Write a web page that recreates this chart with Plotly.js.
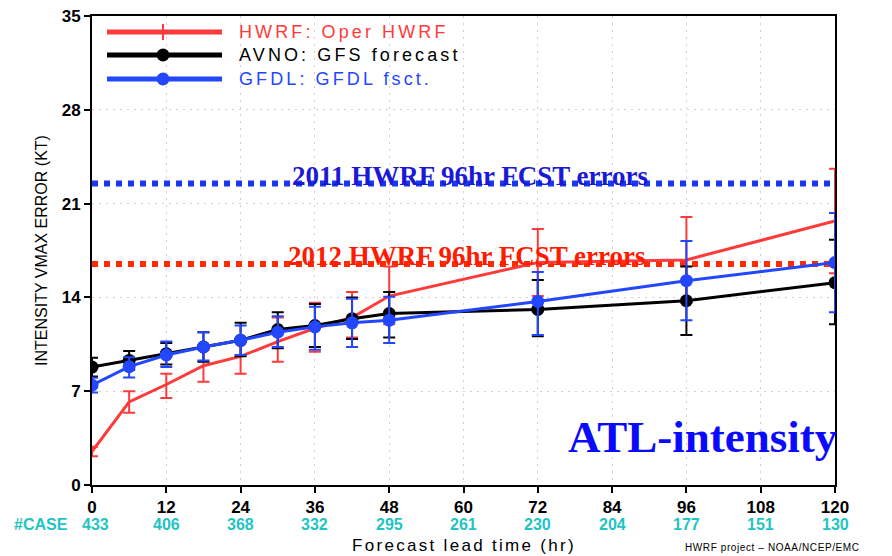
<!DOCTYPE html>
<html>
<head>
<meta charset="utf-8">
<script src="https://cdn.plot.ly/plotly-3.0.1.min.js"></script>
<style>
html,body{margin:0;padding:0;background:#fff;}
#chart{width:892px;height:556px;}
text.annotation-text[data-unformatted^="HWRF:"],
text.annotation-text[data-unformatted^="AVNO:"],
text.annotation-text[data-unformatted^="GFDL:"]{letter-spacing:3.1px;}
text.annotation-text[data-unformatted^="Forecast"]{letter-spacing:2.3px;}
text.annotation-text[data-unformatted^="HWRF project"]{letter-spacing:0.6px;}
</style>
</head>
<body>
<div id="chart"></div>
<script>
// Forecast lead times (hr)
const leadTimes = [0, 6, 12, 18, 24, 30, 36, 42, 48, 72, 96, 120];

// HWRF: Oper HWRF
const hwrfErr   = [2.5, 6.2, 7.5, 8.9, 9.6, 10.7, 11.7, 12.5, 14.1, 16.6, 16.8, 19.7];
const hwrfPlus  = [0.35, 0.8, 0.8, 1.2, 1.3, 1.8, 1.9, 1.9, 2.2, 2.5, 3.2, 3.9];
const hwrfMinus = [0.35, 0.8, 1.0, 1.2, 1.3, 1.5, 1.75, 1.5, 2.1, 2.5, 3.2, 3.9];

// AVNO: GFS forecast
const avnoErr   = [8.8, 9.3, 9.8, 10.3, 10.8, 11.6, 11.9, 12.4, 12.8, 13.1, 13.75, 15.1];
const avnoPlus  = [0.7, 0.7, 0.8, 1.1, 1.3, 1.3, 1.6, 1.6, 1.6, 2.2, 2.55, 3.2];
const avnoMinus = [0.7, 0.7, 0.8, 1.1, 1.2, 1.4, 1.6, 1.5, 1.8, 2.0, 2.55, 3.1];

// GFDL: GFDL fsct.
const gfdlErr   = [7.45, 8.83, 9.7, 10.3, 10.8, 11.4, 11.8, 12.1, 12.3, 13.7, 15.25, 16.6];
const gfdlPlus  = [0.55, 0.7, 1.0, 1.1, 1.1, 1.2, 1.5, 1.8, 1.75, 2.2, 2.95, 3.7];
const gfdlMinus = [0.55, 0.8, 0.9, 1.0, 1.1, 1.1, 1.7, 1.8, 1.7, 2.5, 2.95, 3.7];

// Reference 96hr errors
const refRange = [0, 120];
const hwrf2011_96 = 22.5;
const hwrf2012_96 = 16.5;

// Case counts under x ticks
const caseTicks  = [0, 12, 24, 36, 48, 60, 72, 84, 96, 108, 120];
const caseCounts = ["433", "406", "368", "332", "295", "261", "230", "204", "177", "151", "130"];

const xTicks = [0, 12, 24, 36, 48, 60, 72, 84, 96, 108, 120];
const yTicks = [0, 7, 14, 21, 28, 35];

const RED = '#ff3a3a', BLACK = '#000000', BLUE = '#2346ff';

const traces = [
  {x: refRange, y: [hwrf2011_96, hwrf2011_96], mode: 'lines',
   line: {color: '#1638f0', width: 6, dash: '6px,6px'}, hoverinfo: 'skip'},
  {x: refRange, y: [hwrf2012_96, hwrf2012_96], mode: 'lines',
   line: {color: '#ff2a00', width: 6, dash: '6px,6px'}, hoverinfo: 'skip'},
  {x: leadTimes, y: hwrfErr, mode: 'lines', name: 'HWRF',
   line: {color: RED, width: 3},
   error_y: {type: 'data', symmetric: false, array: hwrfPlus, arrayminus: hwrfMinus,
             color: RED, thickness: 2, width: 6}},
  {x: leadTimes, y: avnoErr, mode: 'lines+markers', name: 'AVNO',
   line: {color: BLACK, width: 3}, marker: {color: BLACK, size: 13},
   error_y: {type: 'data', symmetric: false, array: avnoPlus, arrayminus: avnoMinus,
             color: BLACK, thickness: 2, width: 6}},
  {x: leadTimes, y: gfdlErr, mode: 'lines+markers', name: 'GFDL',
   line: {color: BLUE, width: 3}, marker: {color: BLUE, size: 13},
   error_y: {type: 'data', symmetric: false, array: gfdlPlus, arrayminus: gfdlMinus,
             color: BLUE, thickness: 2, width: 6}}
];

const annotations = [];
// legend texts
const legendItems = [
  {text: 'HWRF: Oper HWRF', color: RED, y: 0.9659},
  {text: 'AVNO: GFS forecast', color: BLACK, y: 0.9168},
  {text: 'GFDL: GFDL fsct.', color: BLUE, y: 0.8657}
];
legendItems.forEach(it => annotations.push({
  xref: 'paper', yref: 'paper', x: 0.1952, y: it.y, xanchor: 'left', yanchor: 'middle',
  text: it.text, showarrow: false,
  font: {family: 'Liberation Sans, Arial, sans-serif', size: 18, color: it.color}
}));
// reference line labels
annotations.push({xref: 'x', yref: 'y', x: 61, y: hwrf2011_96, yanchor: 'middle', yshift: 8,
  text: '2011 HWRF 96hr FCST errors', showarrow: false,
  font: {family: 'Liberation Serif, Times New Roman, serif', size: 27, color: '#1a1ad6', weight: 'bold'}});
annotations.push({xref: 'x', yref: 'y', x: 60.5, y: hwrf2012_96, yanchor: 'middle', yshift: 8,
  text: '2012 HWRF 96hr FCST errors', showarrow: false,
  font: {family: 'Liberation Serif, Times New Roman, serif', size: 27, color: '#ff1a00', weight: 'bold'}});
annotations.push({xref: 'paper', yref: 'paper', x: 1, y: 0.1023, xanchor: 'right', yanchor: 'middle', xshift: 5,
  text: 'ATL-intensity', showarrow: false,
  font: {family: 'Liberation Serif, Times New Roman, serif', size: 45, color: '#0a0aff', weight: 'bold'}});
// case counts
annotations.push({xref: 'paper', yref: 'paper', x: 0, y: 0, xanchor: 'right', yanchor: 'middle',
  xshift: -22, yshift: -39, text: '#CASE', showarrow: false,
  font: {family: 'Liberation Sans, Arial, sans-serif', size: 16, color: '#1fc4c4', weight: 'bold'}});
caseTicks.forEach((t, i) => annotations.push({
  xref: 'x', yref: 'paper', x: t, y: 0, xanchor: 'center', yanchor: 'middle', yshift: -39,
  xshift: i === 0 ? 3 : 0,
  text: caseCounts[i], showarrow: false,
  font: {family: 'Liberation Sans, Arial, sans-serif', size: 16, color: '#1fc4c4', weight: 'bold'}
}));
// x axis title
annotations.push({xref: 'paper', yref: 'paper', x: 0.5, y: 0, xanchor: 'center', yanchor: 'middle', yshift: -60,
  text: 'Forecast lead time (hr)', showarrow: false,
  font: {family: 'Liberation Sans, Arial, sans-serif', size: 17, color: '#000'}});
annotations.push({xref: 'paper', yref: 'paper', x: 1, y: 0, xanchor: 'right', yanchor: 'middle', xshift: 27, yshift: -62,
  text: 'HWRF project \u2013 NOAA/NCEP/EMC', showarrow: false,
  font: {family: 'Liberation Sans, Arial, sans-serif', size: 10, color: '#000'}});

// legend sample shapes (decoration)
const shapes = [];
const lx0 = 0.0202, lx1 = 0.1750, lmx = 0.0956;
[[RED, 0.9659], [BLACK, 0.9168], [BLUE, 0.8657]].forEach(([c, y]) => {
  shapes.push({type: 'line', xref: 'paper', yref: 'paper', x0: lx0, x1: lx1, y0: y, y1: y,
               line: {color: c, width: 5}});
});
shapes.push({type: 'line', xref: 'paper', yref: 'paper', xsizemode: 'pixel', ysizemode: 'pixel',
  xanchor: lmx, yanchor: 0.9659, x0: 0, x1: 0, y0: -8, y1: 8, line: {color: RED, width: 2}});
[[BLACK, 0.9168], [BLUE, 0.8657]].forEach(([c, y]) => {
  shapes.push({type: 'circle', xref: 'paper', yref: 'paper', xsizemode: 'pixel', ysizemode: 'pixel',
    xanchor: lmx, yanchor: y, x0: -6.5, x1: 6.5, y0: -6.5, y1: 6.5,
    fillcolor: c, line: {color: c, width: 0}});
});

const layout = {
  width: 892, height: 556,
  margin: {l: 92, r: 57, t: 16, b: 71},
  paper_bgcolor: '#fff', plot_bgcolor: '#fff',
  showlegend: false,
  xaxis: {range: [0, 120], tickvals: xTicks, ticktext: xTicks.map(String),
    showline: true, linecolor: '#000', linewidth: 2, mirror: true,
    ticks: 'outside', ticklen: 6, tickwidth: 2, tickcolor: '#000',
    showgrid: true, gridcolor: '#cfcfcf', gridwidth: 1, griddash: '2px,5px',
    zeroline: false,
    tickfont: {family: 'Liberation Sans, Arial, sans-serif', size: 17, color: '#000', weight: 'bold'}},
  yaxis: {range: [0, 35], tickvals: yTicks, ticktext: yTicks.map(String),
    showline: true, linecolor: '#000', linewidth: 2, mirror: true,
    ticks: 'outside', ticklen: 6, tickwidth: 2, tickcolor: '#000',
    showgrid: true, gridcolor: '#cfcfcf', gridwidth: 1, griddash: '2px,5px',
    zeroline: false,
    tickfont: {family: 'Liberation Sans, Arial, sans-serif', size: 17, color: '#000', weight: 'bold'},
    title: {text: 'INTENSITY VMAX ERROR (KT)', standoff: 10,
      font: {family: 'Liberation Sans, Arial, sans-serif', size: 16, color: '#000'}}},
  annotations: annotations,
  shapes: shapes
};

Plotly.newPlot('chart', traces, layout, {displayModeBar: false, staticPlot: true});
</script>
</body>
</html>
